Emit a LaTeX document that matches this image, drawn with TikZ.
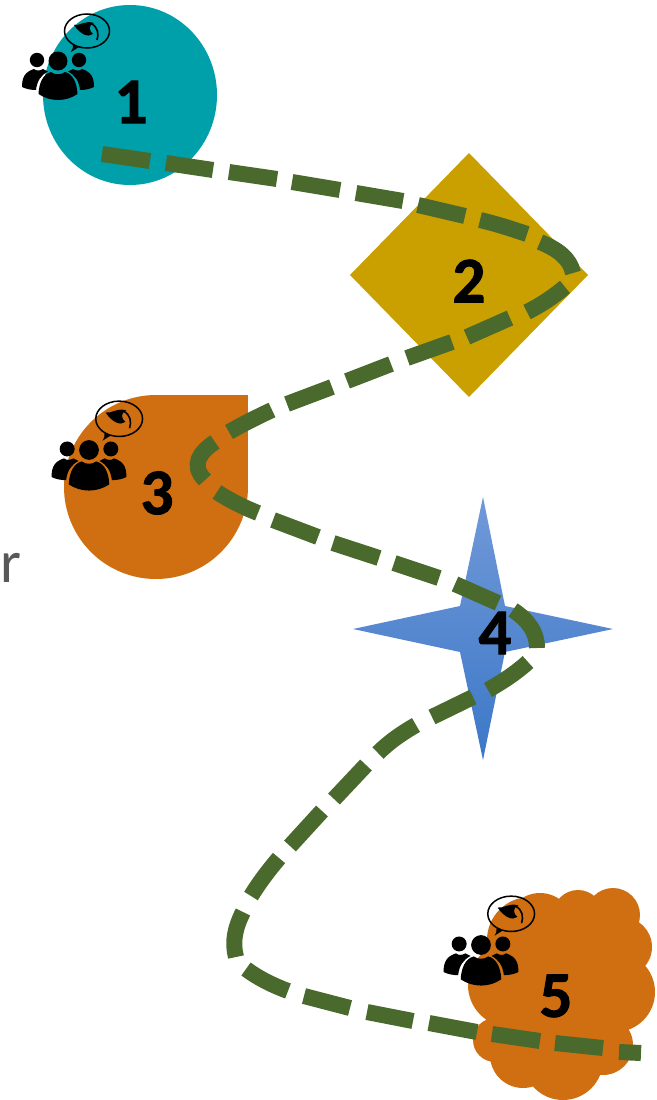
\documentclass[tikz,border=0pt]{standalone}
\usepackage{fontspec}
\setmainfont{Carlito}
\newfontfamily\numf[BoldFeatures={FakeBold=1.5}]{Carlito}
\definecolor{teal1}{HTML}{00A0AA}
\definecolor{gold2}{HTML}{C9A000}
\definecolor{orange3}{HTML}{D06F11}
\definecolor{green1}{HTML}{4A692C}
\definecolor{blueT}{HTML}{7199D8}
\definecolor{blueM}{HTML}{4F86D6}
\definecolor{blueB}{HTML}{3C78C8}
\tikzset{
  numlabel/.style={font=\numf\fontsize{65}{65}\selectfont\bfseries,text=black,inner sep=0pt},
  route/.style={draw=green1,line width=16pt,line cap=butt},
  pics/team/.style={code={
    \fill[black] (0,0) circle (9.5);
    \fill[black] (-21,-1) circle (7.2);
    \fill[black] (21,-1) circle (7.2);
    \fill[black] (-19.5,33) .. controls (-19,22) and (-15,13) .. (-7,11) .. controls (-3,14) and (3,14) .. (7,11) .. controls (15,13) and (19,22) .. (19.5,33) .. controls (8,41) and (-8,41) .. (-19.5,33) -- cycle;
    \fill[black] (-36,26) .. controls (-36,16) and (-33,11) .. (-24,8) .. controls (-22,10) and (-18,10) .. (-15,8) -- (-10,10.5) .. controls (-17,14) and (-21,20) .. (-22,29) .. controls (-27,29) and (-32,28) .. (-36,26) -- cycle;
    \fill[black] (36,26) .. controls (36,16) and (33,11) .. (24,8) .. controls (22,10) and (18,10) .. (15,8) -- (10,10.5) .. controls (17,14) and (21,20) .. (22,29) .. controls (27,29) and (32,28) .. (36,26) -- cycle;
    \draw[black,line width=1.5pt] (29,-30) ellipse [x radius=22.5,y radius=17];
    \fill[black] (15,-17) -- (21,-14) -- (13,-9) .. controls (15,-12) and (15,-14) .. (15,-17) -- cycle;
    \fill[black] (16,-36) .. controls (22,-35) and (27,-41) .. (36,-38) .. controls (30,-36) and (31,-30) .. (35,-27) .. controls (30,-23) and (22,-27) .. (16,-36) -- cycle;
    \draw[black,line width=1.6pt] (33,-37.5) .. controls (40,-34) and (41,-27) .. (39,-21);
  }}
}
\begin{document}
\begin{tikzpicture}[x=1pt,y=-1pt]
\useasboundingbox (0,0) rectangle (656,1100);
% shapes
\fill[teal1] (130,95) ellipse [x radius=87,y radius=90];
\fill[gold2] (469,153) -- (588,275) -- (469,397) -- (350,275) -- cycle;
\fill[orange3] (156,487) circle (92);
\fill[orange3] (156,395) rectangle (248,487);
\shade[top color=blueT,middle color=blueM,bottom color=blueB]
  (483,497) -- (505,606) -- (613,629) -- (505,652) -- (483,760) -- (460,652) -- (353,629) -- (460,606) -- cycle;
\fill[orange3]
  (565,985) ellipse [x radius=70,y radius=70]
  (530,940) circle (43) (540,927) circle (34) (578,915) circle (25)
  (613,915) circle (27) (622,947) circle (30) (615,992) circle (40)
  (603,1045) circle (30) (563,1060) circle (40) (523,1055) circle (33)
  (495,1040) circle (22) (510,985) circle (42);
% labels
\node[numlabel] (n1) at (131,102) {1};
\node[numlabel] (n2) at (469,281) {2};
\node[numlabel] (n3) at (157,493) {3};
\node[numlabel] (n4) at (495,633) {4};
\node[numlabel] (n5) at (556,996) {5};
\node[inner sep=0pt,anchor=base west,text=black!65,font=\fontsize{60}{60}\selectfont] (rr) at (0,582) {r};
% people
\pic at (58,61) {team};
\pic[scale=1.04] at (89,450) {team};
\pic[scale=1.04] at (481,945) {team};
% route: one dashed line, each dash placed where the picture has it
\draw[route]
  (102,154) -- (150,161)
  (166,163) -- (213,170)
  (229,172) -- (277,179)
  (292,182) -- (340,190)
  (356,193) -- (403,201)
  (418,205) -- (465,216)
  (480,220) .. controls (497,224) and (512,229) .. (527,234)
  (540,242) .. controls (557,249) and (570,258) .. (573,273)
  (565,287) .. controls (553,297) and (541,305) .. (527,312)
  (510,318) -- (467,337)
  (452,342) -- (407,358)
  (391,364) -- (347,381)
  (332,387) -- (287,404)
  (272,410) .. controls (257,417) and (243,424) .. (229,432)
  (215,442) .. controls (200,452) and (190,465) .. (205,480)
  (217,492) .. controls (229,500) and (243,507) .. (258,513)
  (273,520) -- (318,537)
  (333,543) -- (379,558)
  (394,563) -- (439,578)
  (455,584) -- (498,603)
  (513,610) .. controls (528,620) and (537,632) .. (537,648)
  (528,662) .. controls (516,673) and (502,682) .. (488,690)
  (473,697) -- (432,717)
  (416,725) .. controls (402,733) and (389,742) .. (378,753)
  (366,765) -- (334,799)
  (322,811) -- (290,846)
  (279,858) .. controls (268,871) and (259,883) .. (251,896)
  (243,912) .. controls (235,928) and (232,942) .. (236,957)
  (246,969) .. controls (258,978) and (272,985) .. (288,991)
  (304,996) -- (350,1008)
  (367,1012) -- (413,1021)
  (429,1023) -- (477,1032)
  (492,1034) -- (540,1041)
  (555,1043) -- (603,1048)
  (619,1052) -- (641,1053);
\end{tikzpicture}
\end{document}
